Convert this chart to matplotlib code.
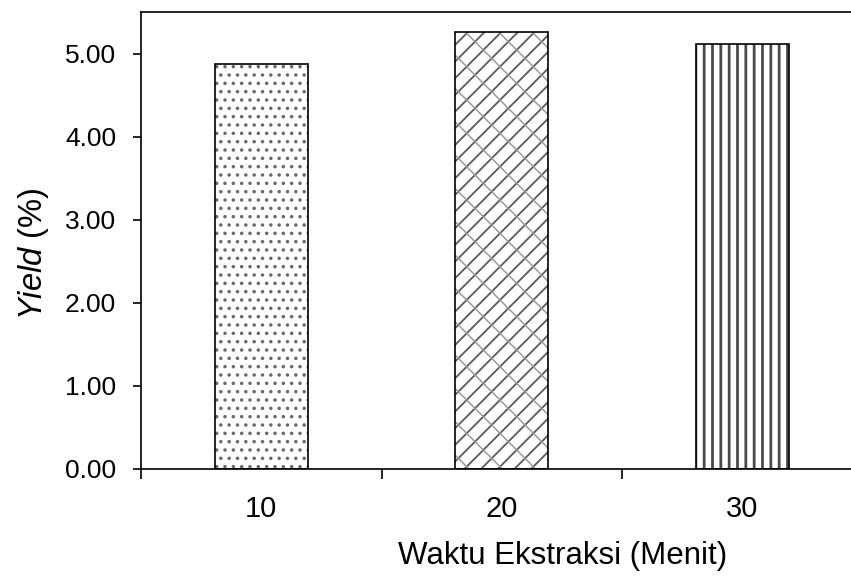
import numpy as np
import matplotlib.pyplot as plt
from matplotlib.ticker import FixedLocator

plt.rcParams['font.family'] = ['Liberation Sans', 'DejaVu Sans']
plt.rcParams['mathtext.fontset'] = 'custom'
plt.rcParams['mathtext.rm'] = 'Liberation Sans'
plt.rcParams['mathtext.it'] = 'Liberation Sans:italic'
plt.rcParams['hatch.linewidth'] = 1.3

# Data
waktu = ['10', '20', '30']
yield_pct = [4.88, 5.26, 5.11]
# each bar: list of (hatch, colour, hatch linewidth) layers
hatch_layers = [
    [('..', '#6a6a6a', 1.3)],
    [('//', '#5a5a5a', 1.3), ('\\', '#9a9a9a', 1.1)],
    [('||', '#4a4a4a', 2.0)],
]

fig = plt.figure(figsize=(8.51, 5.76), dpi=100)
ax = fig.add_axes([141 / 851, 107 / 576, 721.5 / 851, 457 / 576])

x = np.arange(len(waktu))
bw = 0.385
for xi, val, layers in zip(x, yield_pct, hatch_layers):
    ax.bar(xi, val, width=bw, color='white', linewidth=0)
    for h, c, lw in layers:
        with plt.rc_context({'hatch.linewidth': lw}):
            ax.bar(xi, val, width=bw, fill=False, edgecolor=c, linewidth=0, hatch=h)
    ax.bar(xi, val, width=bw, fill=False, edgecolor='black', linewidth=1.2)

ax.set_xlim(-0.5, 2.5)
ax.set_ylim(0, 5.5)
ax.set_xticks(x)
ax.set_xticklabels(waktu)
ax.xaxis.set_minor_locator(FixedLocator([-0.5, 0.5, 1.5, 2.5]))
ax.tick_params(axis='x', which='major', length=0, pad=19, labelsize=21)
ax.tick_params(axis='x', which='minor', length=7, width=1.2, direction='out')
ax.set_yticks(np.arange(0, 5.01, 1.0))
ax.set_yticklabels([f'{v:.2f}' for v in np.arange(0, 5.01, 1.0)])
ax.tick_params(axis='y', length=6, width=1.2, direction='out', labelsize=19, pad=12)

ax.spines['right'].set_visible(False)
for s in ['left', 'bottom', 'top']:
    ax.spines[s].set_linewidth(1.2)

ax.set_xlabel('Waktu Ekstraksi (Menit)', fontsize=22.5, labelpad=13)
ax.xaxis.label.set_x(0.585)
ax.set_ylabel(r'$\mathit{Yield}$ (%)', fontsize=23.5, labelpad=10)
ax.yaxis.label.set_y(0.47)

fig.savefig('out.png', dpi=100)
